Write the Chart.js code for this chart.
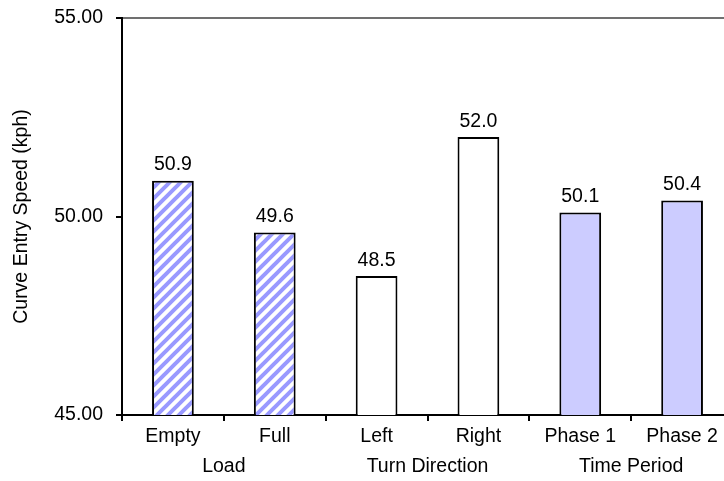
<!DOCTYPE html>
<html>
<head>
<meta charset="utf-8">
<script src="https://cdn.jsdelivr.net/npm/chart.js@4"></script>
<style>
  html, body { margin: 0; padding: 0; background: #fff; overflow: hidden; }
  #wrap { width: 735px; height: 481px; }
</style>
</head>
<body>
<div id="wrap"><canvas id="speedChart" width="735" height="481"></canvas></div>
<script>
// Data
const categories = ['Empty', 'Full', 'Left', 'Right', 'Phase 1', 'Phase 2'];
const groups = ['Load', 'Turn Direction', 'Time Period'];
const speeds = [50.9, 49.6, 48.5, 52.0, 50.1, 50.4];
const yTicks = [45, 50, 55];

const FONT = { family: '"Liberation Sans", Arial, sans-serif', size: 19.5 };

// diagonal "/" hatch used for the Load bars
function stripes(color, size) {
    const c = document.createElement('canvas');
    c.width = c.height = size;
    const g = c.getContext('2d');
    g.fillStyle = '#fff';
    g.fillRect(0, 0, size, size);
    g.strokeStyle = color;
    g.lineWidth = 4;
    g.beginPath();
    g.moveTo(-1, size + 1); g.lineTo(size + 1, -1);
    g.moveTo(-size / 2, size / 2); g.lineTo(size / 2, -size / 2);
    g.moveTo(size / 2, size * 1.5); g.lineTo(size * 1.5, size / 2);
    g.stroke();
    return g.createPattern(c, 'repeat');
}

const hatch = stripes('#9999ff', 11);
const fills = [hatch, hatch, '#ffffff', '#ffffff', '#ccccff', '#ccccff'];

// value labels above each bar
const valueLabels = {
    id: 'valueLabels',
    afterDatasetsDraw(chart) {
        const ctx = chart.ctx;
        const meta = chart.getDatasetMeta(0);
        ctx.save();
        ctx.font = FONT.size + 'px ' + FONT.family;
        ctx.fillStyle = '#000';
        ctx.textAlign = 'center';
        ctx.textBaseline = 'bottom';
        meta.data.forEach((bar, i) => {
            ctx.fillText(speeds[i].toFixed(1), bar.x, bar.y - 6);
        });
        ctx.restore();
    }
};

const ctx = document.getElementById('speedChart').getContext('2d');
new Chart(ctx, {
    type: 'bar',
    data: {
        labels: categories,
        datasets: [{
            data: speeds,
            backgroundColor: fills,
            borderColor: '#000',
            borderWidth: 2,
            borderSkipped: false,
            barPercentage: 0.41,
            categoryPercentage: 1
        }]
    },
    options: {
        responsive: false,
        animation: false,
        devicePixelRatio: 1,
        layout: { padding: { top: 18, right: 2, left: 0, bottom: 0 } },
        plugins: {
            legend: { display: false },
            tooltip: { enabled: false }
        },
        scales: {
            y: {
                min: 45,
                max: 55,
                afterBuildTicks: (scale) => { scale.ticks = yTicks.map(v => ({ value: v })); },
                afterFit: (scale) => {
                    scale.width = 122;
                    scale.paddingTop = 0;
                    scale.paddingBottom = 0;
                },
                ticks: {
                    color: '#000',
                    font: FONT,
                    padding: 13,
                    callback: (v) => Number(v).toFixed(2)
                },
                grid: {
                    color: (c) => (c.tick && c.tick.value === 55 ? '#707070' : 'rgba(0,0,0,0)'),
                    lineWidth: 2,
                    tickColor: '#000',
                    tickLength: 6
                },
                border: { color: '#000', width: 2 },
                title: {
                    display: true,
                    text: 'Curve Entry Speed (kph)',
                    color: '#000',
                    font: FONT,
                    padding: { top: 10, bottom: 0 }
                }
            },
            x: {
                weight: 0,
                afterFit: (scale) => { scale.height = 40; },
                ticks: { color: '#000', font: FONT, padding: 4, maxRotation: 0, autoSkip: false },
                grid: {
                    offset: true,
                    drawOnChartArea: false,
                    tickColor: '#000',
                    tickLength: 6,
                    lineWidth: 2
                },
                border: { color: '#000', width: 2 }
            },
            group: {
                type: 'category',
                position: 'bottom',
                weight: 1,
                labels: groups,
                offset: true,
                afterFit: (scale) => { scale.height = 26; },
                ticks: { color: '#000', font: FONT, padding: 0, maxRotation: 0, autoSkip: false },
                grid: { display: false, drawTicks: false },
                border: { display: false }
            }
        }
    },
    plugins: [valueLabels]
});
</script>
</body>
</html>
